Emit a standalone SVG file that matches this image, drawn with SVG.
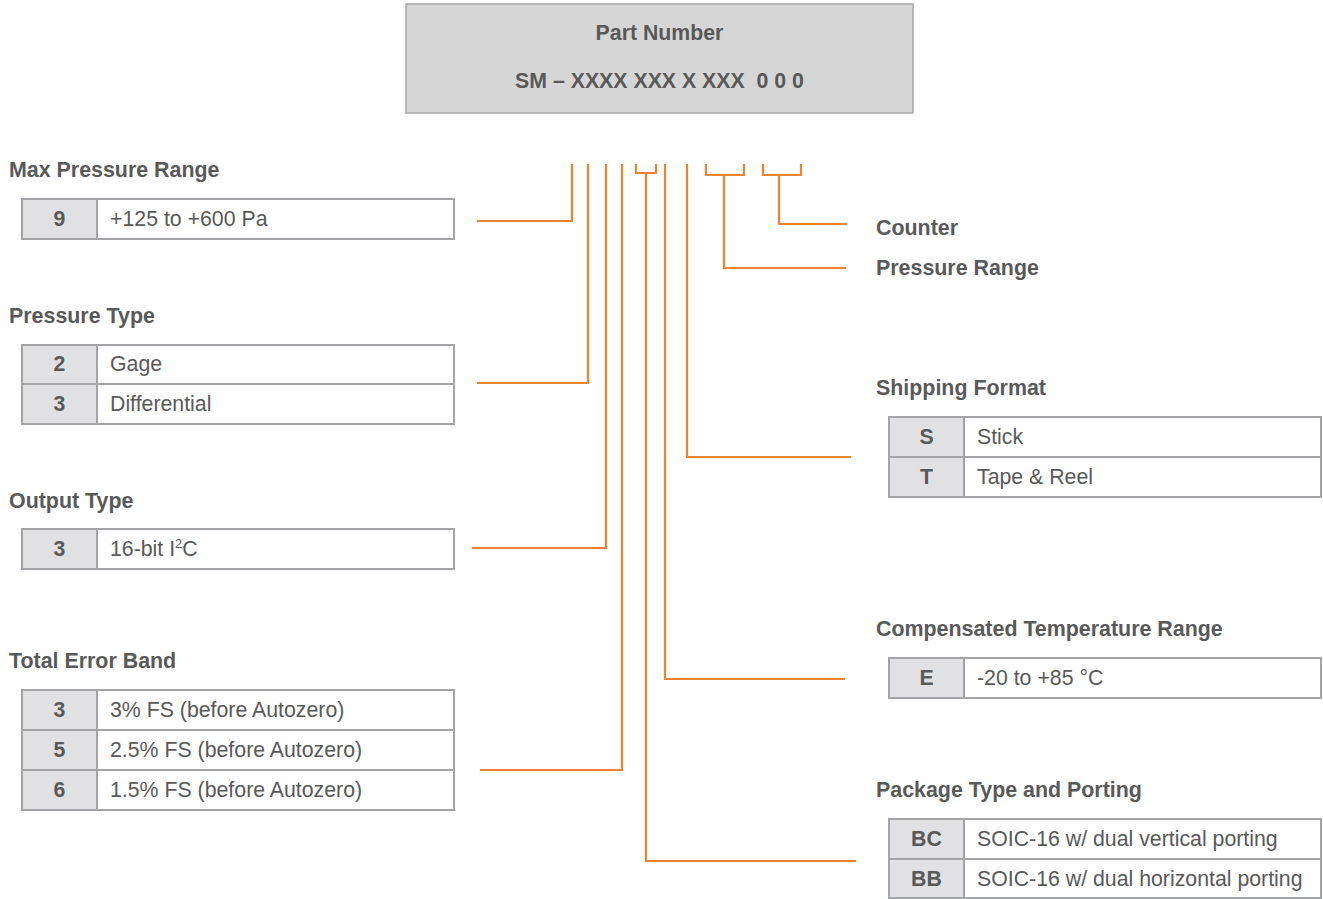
<svg xmlns="http://www.w3.org/2000/svg" width="1323" height="899" viewBox="0 0 1323 899">
<style>
text{font-family:"Liberation Sans",Arial,sans-serif;fill:#595959;font-size:21.3px}
.b{font-weight:bold}
.t{font-weight:bold;font-size:21.4px}
.k{font-weight:bold;text-anchor:middle}
.key{fill:#e1e1e4;stroke:#a2a4a7;stroke-width:2}
.val{fill:#ffffff;stroke:#a2a4a7;stroke-width:2}
.hdr{fill:#d6d6d6;stroke:#a6a6a6;stroke-width:1.5}
.c{fill:none;stroke:#ed8331;stroke-width:2.2}
</style>
<rect width="1323" height="899" fill="#ffffff"/>
<g id="header">
<rect class="hdr" x="406" y="4" width="507" height="109"/>
<text class="b" x="659.5" y="40" text-anchor="middle" font-size="20.2">Part Number</text>
<text class="b" x="659.5" y="88" text-anchor="middle" font-size="20.2" xml:space="preserve">SM – XXXX XXX X XXX  0 0 0</text>
</g>
<g id="connectors">
<polyline class="c" points="477,221 572,221 572,164"/>
<polyline class="c" points="477,383 588,383 588,164"/>
<polyline class="c" points="472,548 606,548 606,164"/>
<polyline class="c" points="480,770 622,770 622,164"/>
<polyline class="c" points="636,164 636,173 656,173 656,164"/>
<polyline class="c" points="856,861 646,861 646,173"/>
<polyline class="c" points="845,679 665,679 665,164"/>
<polyline class="c" points="851,457 687,457 687,164"/>
<polyline class="c" points="706,164 706,175 744,175 744,164"/>
<polyline class="c" points="846,268 724,268 724,175"/>
<polyline class="c" points="763,164 763,175 801,175 801,164"/>
<polyline class="c" points="847,224 779,224 779,175"/>
</g>
<g id="max-pressure-range">
<text class="t" x="9" y="177">Max Pressure Range</text>
<rect class="key" x="22" y="199" width="75" height="40"/>
<rect class="val" x="97" y="199" width="357" height="40"/>
<text class="k" x="59.5" y="226">9</text>
<text x="110" y="226">+125 to +600 Pa</text>
</g>
<g id="pressure-type">
<text class="t" x="9" y="323">Pressure Type</text>
<rect class="key" x="22" y="345" width="75" height="39"/>
<rect class="val" x="97" y="345" width="357" height="39"/>
<rect class="key" x="22" y="384" width="75" height="40"/>
<rect class="val" x="97" y="384" width="357" height="40"/>
<text class="k" x="59.5" y="371">2</text>
<text x="110" y="371">Gage</text>
<text class="k" x="59.5" y="411">3</text>
<text x="110" y="411">Differential</text>
</g>
<g id="output-type">
<text class="t" x="9" y="508">Output Type</text>
<rect class="key" x="22" y="529" width="75" height="40"/>
<rect class="val" x="97" y="529" width="357" height="40"/>
<text class="k" x="59.5" y="556">3</text>
<text x="110" y="556">16-bit I<tspan font-size="13" dy="-8">2</tspan><tspan dy="8">C</tspan></text>
</g>
<g id="total-error-band">
<text class="t" x="9" y="668">Total Error Band</text>
<rect class="key" x="22" y="690" width="75" height="40"/>
<rect class="val" x="97" y="690" width="357" height="40"/>
<rect class="key" x="22" y="730" width="75" height="40"/>
<rect class="val" x="97" y="730" width="357" height="40"/>
<rect class="key" x="22" y="770" width="75" height="40"/>
<rect class="val" x="97" y="770" width="357" height="40"/>
<text class="k" x="59.5" y="717">3</text>
<text x="110" y="717">3% FS (before Autozero)</text>
<text class="k" x="59.5" y="757">5</text>
<text x="110" y="757">2.5% FS (before Autozero)</text>
<text class="k" x="59.5" y="797">6</text>
<text x="110" y="797">1.5% FS (before Autozero)</text>
</g>
<g id="counter">
<text class="t" x="876" y="235">Counter</text>
</g>
<g id="pressure-range">
<text class="t" x="876" y="275">Pressure Range</text>
</g>
<g id="shipping-format">
<text class="t" x="876" y="395">Shipping Format</text>
<rect class="key" x="889" y="417" width="75" height="40"/>
<rect class="val" x="964" y="417" width="357" height="40"/>
<rect class="key" x="889" y="457" width="75" height="40"/>
<rect class="val" x="964" y="457" width="357" height="40"/>
<text class="k" x="926.5" y="444">S</text>
<text x="977" y="444">Stick</text>
<text class="k" x="926.5" y="484">T</text>
<text x="977" y="484">Tape &amp; Reel</text>
</g>
<g id="compensated-temperature-range">
<text class="t" x="876" y="636">Compensated Temperature Range</text>
<rect class="key" x="889" y="658" width="75" height="40"/>
<rect class="val" x="964" y="658" width="357" height="40"/>
<text class="k" x="926.5" y="685">E</text>
<text x="977" y="685">-20 to +85 °C</text>
</g>
<g id="package-type-and-porting">
<text class="t" x="876" y="797">Package Type and Porting</text>
<rect class="key" x="889" y="819" width="75" height="40"/>
<rect class="val" x="964" y="819" width="357" height="40"/>
<rect class="key" x="889" y="859" width="75" height="39"/>
<rect class="val" x="964" y="859" width="357" height="39"/>
<text class="k" x="926.5" y="846">BC</text>
<text x="977" y="846">SOIC-16 w/ dual vertical porting</text>
<text class="k" x="926.5" y="886">BB</text>
<text x="977" y="886">SOIC-16 w/ dual horizontal porting</text>
</g>
</svg>
